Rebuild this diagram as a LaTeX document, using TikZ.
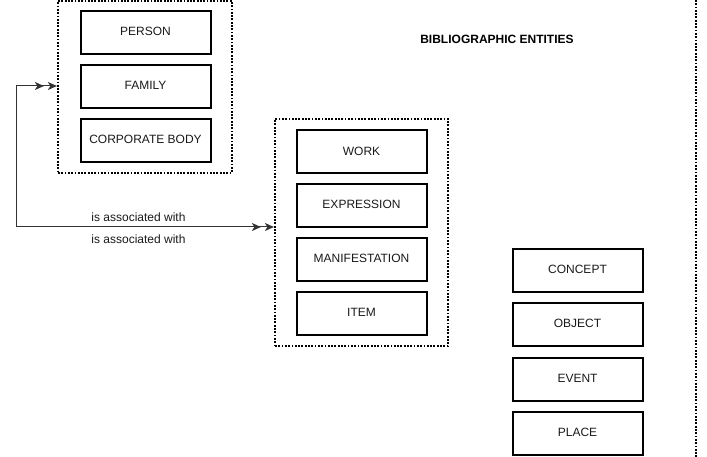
\documentclass[tikz,border=0pt]{standalone}
\usepackage{fontspec}
\setmainfont{Liberation Sans}
\usetikzlibrary{arrows.meta}
\begin{document}
\begin{tikzpicture}[x=1pt,y=-1pt,
  ent/.style={draw=black, line width=2pt, minimum width=130pt, minimum height=43pt,
    inner sep=0pt, font=\fontsize{12}{14}\selectfont, text=black!90, text depth=1.5pt},
  grp/.style={draw=black, line width=2.2pt, dash pattern=on 1.8pt off 1.5pt, inner sep=0pt},
  lbl/.style={font=\fontsize{12}{14}\selectfont, text=black!90, inner sep=0pt},
  conn/.style={draw=black!80, line width=1pt},
  dbl/.style={-{Stealth[length=9pt,width=8pt,inset=2.5pt,sep=4pt]Stealth[length=9pt,width=8pt,inset=2.5pt]}}
]
\useasboundingbox (0,0) rectangle (707,457);
% groups
\node[grp, minimum width=174pt, minimum height=172pt] (g1) at (145,87) {};
\node[grp, minimum width=173pt, minimum height=227pt] (g2) at (361.5,232.5) {};
\coordinate (rtop) at (696,0);
\coordinate (rbot) at (696,457);
\draw[grp] (rtop) -- (rbot);
% group 1
\node[ent] (person) at (145.5,32.5) {PERSON};
\node[ent] (family) at (145.5,86.5) {FAMILY};
\node[ent] (corp) at (145.5,140.5) {CORPORATE BODY};
% group 2
\node[ent] (work) at (361.5,152) {WORK};
\node[ent] (expr) at (361.5,205.5) {EXPRESSION};
\node[ent] (mani) at (361.5,259.5) {MANIFESTATION};
\node[ent] (item) at (361.5,313.5) {ITEM};
% group 3
\node[ent] (concept) at (577.5,270.5) {CONCEPT};
\node[ent] (object) at (577.5,324.5) {OBJECT};
\node[ent] (event) at (577.5,379) {EVENT};
\node[ent] (place) at (577.5,433) {PLACE};
% title
\node[lbl, font=\fontsize{12}{14}\selectfont\bfseries, text=black] (title) at (497,39) {BIBLIOGRAPHIC ENTITIES};
% connector
\coordinate (ctop) at (16,86);
\coordinate (cbot) at (16,227);
\draw[conn, dbl] (cbot) -- (ctop) -- (g1.west |- ctop);
\draw[conn, dbl] (cbot) -- (g2.west |- cbot);
\node[lbl] (l1) at (138.5,217) {is associated with};
\node[lbl] (l2) at (138.5,239) {is associated with};
\end{tikzpicture}
\end{document}
